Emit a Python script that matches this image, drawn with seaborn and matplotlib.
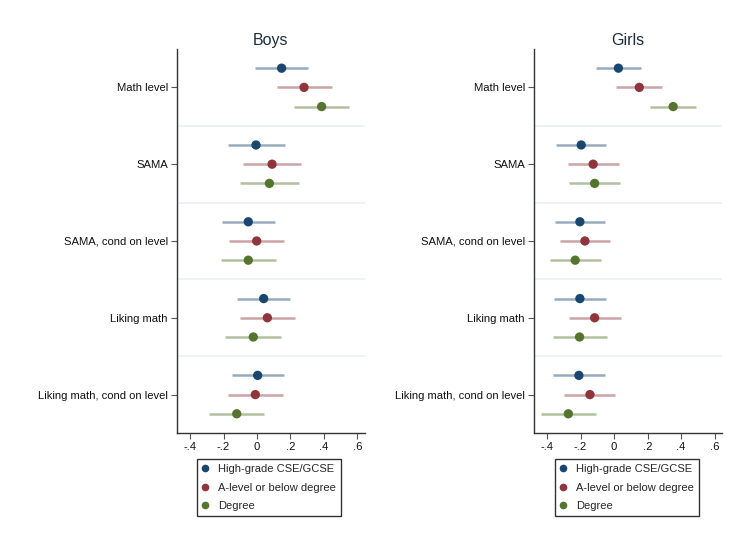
import numpy as np
import pandas as pd
import matplotlib
matplotlib.use("Agg")
import matplotlib.pyplot as plt
import seaborn as sns
from matplotlib.lines import Line2D

categories = ["Math level", "SAMA", "SAMA, cond on level", "Liking math",
              "Liking math, cond on level"]
groups = ["High-grade CSE/GCSE", "A-level or below degree", "Degree"]
tick_values = [-0.4, -0.2, 0.0, 0.2, 0.4, 0.6]
tick_labels = ["-.4", "-.2", "0", ".2", ".4", ".6"]

# Boys: estimates and CI bounds, per group (rows follow categories)
boys_est_high = [0.147, -0.006, -0.052, 0.040, 0.004]
boys_lo_high = [-0.012, -0.173, -0.211, -0.119, -0.151]
boys_hi_high = [0.306, 0.165, 0.109, 0.199, 0.161]
boys_est_alev = [0.281, 0.090, -0.002, 0.062, -0.010]
boys_lo_alev = [0.117, -0.082, -0.165, -0.103, -0.171]
boys_hi_alev = [0.446, 0.260, 0.161, 0.227, 0.153]
boys_est_deg = [0.386, 0.074, -0.052, -0.022, -0.121]
boys_lo_deg = [0.221, -0.100, -0.215, -0.189, -0.285]
boys_hi_deg = [0.551, 0.249, 0.113, 0.145, 0.042]

# Girls
girls_est_high = [0.026, -0.196, -0.204, -0.204, -0.210]
girls_lo_high = [-0.109, -0.345, -0.350, -0.358, -0.364]
girls_hi_high = [0.161, -0.048, -0.057, -0.049, -0.053]
girls_est_alev = [0.151, -0.125, -0.174, -0.116, -0.144]
girls_lo_alev = [0.014, -0.277, -0.323, -0.271, -0.301]
girls_hi_alev = [0.288, 0.030, -0.024, 0.040, 0.008]
girls_est_deg = [0.353, -0.116, -0.232, -0.206, -0.273]
girls_lo_deg = [0.212, -0.269, -0.380, -0.366, -0.434]
girls_hi_deg = [0.491, 0.038, -0.079, -0.045, -0.110]

colors = ["#1a476f", "#90353b", "#55752f"]
offsets = [-0.25, 0.0, 0.25]


def build(est, lo, hi):
    rows = []
    for g, (e, l, h) in enumerate(zip(est, lo, hi)):
        for c in range(len(categories)):
            rows.append(dict(group=groups[g], cat=c, y=c + offsets[g],
                             est=e[c], lo=l[c], hi=h[c]))
    return pd.DataFrame(rows)


boys = build([boys_est_high, boys_est_alev, boys_est_deg],
             [boys_lo_high, boys_lo_alev, boys_lo_deg],
             [boys_hi_high, boys_hi_alev, boys_hi_deg])
girls = build([girls_est_high, girls_est_alev, girls_est_deg],
              [girls_lo_high, girls_lo_alev, girls_lo_deg],
              [girls_hi_high, girls_hi_alev, girls_hi_deg])

sns.set_theme(style="white")
plt.rcParams["font.family"] = ["Liberation Sans", "DejaVu Sans"]

fig = plt.figure(figsize=(7.42, 5.43), dpi=100)
fig.patch.set_facecolor("white")

axes_pos = [[0.2385, 0.2026, 0.2534, 0.7072], [0.7197, 0.2026, 0.2534, 0.7072]]
titles = ["Boys", "Girls"]
legend_anchor = [(0.2655, 0.1547), (0.7475, 0.1547)]
palette = dict(zip(groups, colors))

for df, pos, title, anchor in zip([boys, girls], axes_pos, titles, legend_anchor):
    ax = fig.add_axes(pos)
    for sep in [0.5, 1.5, 2.5, 3.5]:
        ax.axhline(sep, color="#eaf0f2", lw=1.2, zorder=0)
    for g in groups:
        sub = df[df.group == g]
        ax.hlines(sub.y, sub.lo, sub.hi, color=palette[g], alpha=0.45, lw=1.8, zorder=2)
    sns.scatterplot(data=df, x="est", y="y", hue="group", palette=palette,
                    s=45, edgecolor="none", legend=False, ax=ax, zorder=3)
    ax.set_xlim(-0.478, 0.645)
    ax.set_ylim(4.5, -0.5)
    ax.set_yticks(range(len(categories)))
    ax.set_yticklabels(categories, fontsize=8.1, color="#111111")
    ax.set_xticks(tick_values)
    ax.set_xticklabels(tick_labels, fontsize=8.1, color="#111111")
    ax.set_xlabel("")
    ax.set_ylabel("")
    ax.set_title(title, fontsize=11.5, color="#1e2d3b", pad=3)
    for s in ["top", "right"]:
        ax.spines[s].set_visible(False)
    for s in ["left", "bottom"]:
        ax.spines[s].set_color("#333333")
        ax.spines[s].set_linewidth(1.0)
    ax.tick_params(axis="both", length=4, width=0.8, color="#555555", pad=2.5,
                   left=True, bottom=True)
    handles = [Line2D([0], [0], marker="o", ls="none", color=c, markersize=4.5)
               for c in colors]
    fig.legend(handles, groups, loc="upper left", bbox_to_anchor=anchor,
               bbox_transform=fig.transFigure, fontsize=8.0, frameon=True,
               fancybox=False, edgecolor="#333333", handletextpad=0.85,
               borderpad=0.45, labelspacing=0.78, handlelength=0.6,
               borderaxespad=0, framealpha=1)

fig.savefig("out.png", dpi=100, facecolor="white")
